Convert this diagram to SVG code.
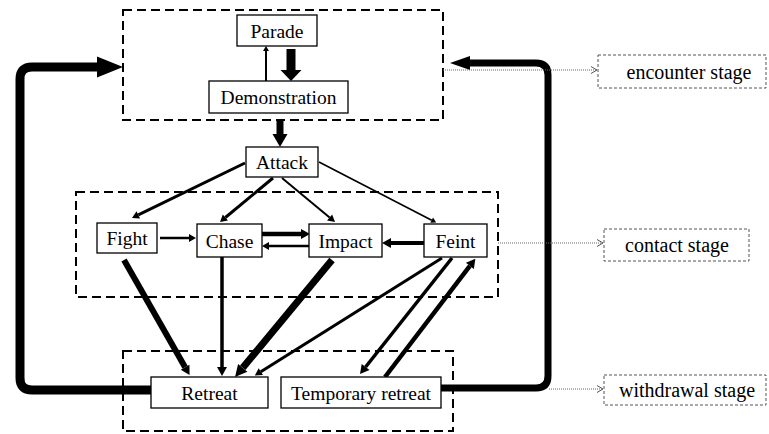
<svg xmlns="http://www.w3.org/2000/svg" width="769" height="434" viewBox="0 0 769 434">
<style>
.node rect{fill:#fff;stroke:#000;stroke-width:1.3}
text{font-family:"Liberation Serif","Times New Roman",serif;font-size:19.5px;fill:#000;text-anchor:middle}
.stage{fill:none;stroke:#000;stroke-width:2;stroke-dasharray:9 5}
.lbl rect{fill:#fff;stroke:#555;stroke-width:1;stroke-dasharray:3 2}
.lbl text{font-size:20px}
.c{fill:none;stroke:#000}
.dot{fill:none;stroke:#666;stroke-width:1.2;stroke-dasharray:1 1}
</style>
<defs>
<marker id="hT" markerUnits="userSpaceOnUse" orient="auto" markerWidth="12" markerHeight="12" viewBox="0 -6 12 12" refX="0" refY="0" overflow="visible"><path d="M0,-3 L5,0 L0,3 Z" fill="#000"/></marker>
<marker id="hS" markerUnits="userSpaceOnUse" orient="auto" markerWidth="12" markerHeight="12" viewBox="0 -6 12 12" refX="0" refY="0" overflow="visible"><path d="M0,-4 L7,0 L0,4 Z" fill="#000"/></marker>
<marker id="hM" markerUnits="userSpaceOnUse" orient="auto" markerWidth="12" markerHeight="12" viewBox="0 -6 12 12" refX="0" refY="0" overflow="visible"><path d="M0,-5 L9,0 L0,5 Z" fill="#000"/></marker>
<marker id="hL" markerUnits="userSpaceOnUse" orient="auto" markerWidth="14" markerHeight="14" viewBox="0 -7 14 14" refX="0" refY="0" overflow="visible"><path d="M0,-6 L12,0 L0,6 Z" fill="#000"/></marker>
<marker id="hA" markerUnits="userSpaceOnUse" orient="auto" markerWidth="16" markerHeight="16" viewBox="0 -8 16 16" refX="0" refY="0" overflow="visible"><path d="M0,-7.5 L13,0 L0,7.5 Z" fill="#000"/></marker>
<marker id="hP" markerUnits="userSpaceOnUse" orient="auto" markerWidth="22" markerHeight="22" viewBox="0 -11 22 22" refX="0" refY="0" overflow="visible"><path d="M0,-10.5 L11,0 L0,10.5 Z" fill="#000"/></marker>
<marker id="hBL" markerUnits="userSpaceOnUse" orient="auto" markerWidth="28" markerHeight="28" viewBox="0 -14 28 28" refX="0" refY="0" overflow="visible"><path d="M0,-10.5 L26,0 L0,10.5 Z" fill="#000"/></marker>
<marker id="hBR" markerUnits="userSpaceOnUse" orient="auto" markerWidth="22" markerHeight="22" viewBox="0 -11 22 22" refX="0" refY="0" overflow="visible"><path d="M0,-7 L20,0 L0,7 Z" fill="#000"/></marker>
<marker id="hO" markerUnits="userSpaceOnUse" orient="auto" markerWidth="10" markerHeight="10" viewBox="0 -5 10 10" refX="6" refY="0" overflow="visible"><path d="M0,-3.5 L6,0 L0,3.5" fill="none" stroke="#555" stroke-width="1"/></marker>
</defs>

<g id="stages">
<rect class="stage" x="123" y="10" width="320" height="110"/>
<rect class="stage" x="76" y="192" width="422" height="105"/>
<rect class="stage" x="123" y="351" width="330" height="80"/>
</g>

<g id="connectors">
<path class="c" stroke-width="2" d="M266,81 V51" marker-end="url(#hT)"/>
<path class="c" stroke-width="9" d="M291,49 V70" marker-end="url(#hP)"/>
<path class="c" stroke-width="7" d="M280,120 V134" marker-end="url(#hA)"/>
<path class="c" stroke-width="3" d="M245,163 L138.3,214.9" marker-end="url(#hS)"/>
<path class="c" stroke-width="3" d="M273,178 L225.4,217.5" marker-end="url(#hS)"/>
<path class="c" stroke-width="2" d="M282,178 L329.6,217.5" marker-end="url(#hS)"/>
<path class="c" stroke-width="1.6" d="M319,162 L431.7,220.2" marker-end="url(#hT)"/>
<path class="c" stroke-width="2.5" d="M160,238 H189" marker-end="url(#hS)"/>
<path class="c" stroke-width="4.5" d="M262,234 H301" marker-end="url(#hM)"/>
<path class="c" stroke-width="2.5" d="M309,246 H269" marker-end="url(#hS)"/>
<path class="c" stroke-width="4" d="M424,243 H391" marker-end="url(#hM)"/>
<path class="c" stroke-width="6" d="M124,260 L185.1,367.3" marker-end="url(#hM)"/>
<path class="c" stroke-width="3.5" d="M222,257 V367" marker-end="url(#hM)"/>
<path class="c" stroke-width="7" d="M332,260 L242.7,367.8" marker-end="url(#hL)"/>
<path class="c" stroke-width="3" d="M442,258 L260.8,371.7" marker-end="url(#hS)"/>
<path class="c" stroke-width="3.5" d="M452,258 L365.6,367" marker-end="url(#hM)"/>
<path class="c" stroke-width="4.5" d="M385,377 L469.9,265.9" marker-end="url(#hM)"/>
<path class="c" stroke-width="9" stroke-linejoin="round" d="M151,390 H32 Q20,390 20,378 V79 Q20,67 32,67 H97" marker-end="url(#hBL)"/>
<path class="c" stroke-width="7" stroke-linejoin="round" d="M441,388 H536 Q548,388 548,376 V75 Q548,63 536,63 H470" marker-end="url(#hBR)"/>
<path class="dot" d="M443,70 H597" marker-end="url(#hO)"/>
<path class="dot" d="M498,243 H603" marker-end="url(#hO)"/>
<path class="dot" d="M549,389 H603" marker-end="url(#hO)"/>
</g>

<g id="parade" class="node"><rect x="237" y="15" width="80" height="31"/><text x="277" y="37.5">Parade</text></g>
<g id="demonstration" class="node"><rect x="209" y="81" width="139" height="32"/><text x="278.5" y="104">Demonstration</text></g>
<g id="attack" class="node"><rect x="246" y="147" width="72" height="30"/><text x="282" y="169">Attack</text></g>
<g id="fight" class="node"><rect x="97" y="223" width="60" height="30"/><text x="127" y="245">Fight</text></g>
<g id="chase" class="node"><rect x="197" y="224" width="65" height="33"/><text x="229.5" y="247.5">Chase</text></g>
<g id="impact" class="node"><rect x="309" y="224" width="73" height="33"/><text x="345.5" y="247.5">Impact</text></g>
<g id="feint" class="node"><rect x="424" y="224" width="63" height="33"/><text x="455.5" y="247.5">Feint</text></g>
<g id="retreat" class="node"><rect x="151" y="377" width="117" height="31"/><text x="209.5" y="399.5">Retreat</text></g>
<g id="temporary-retreat" class="node"><rect x="281" y="377" width="160" height="31"/><text x="361" y="399.5">Temporary retreat</text></g>

<g id="encounter-stage" class="lbl"><rect x="598" y="55" width="168" height="33"/><text x="689" y="78.5">encounter stage</text></g>
<g id="contact-stage" class="lbl"><rect x="604" y="229" width="145" height="32"/><text x="677" y="251.5">contact stage</text></g>
<g id="withdrawal-stage" class="lbl"><rect x="604" y="375" width="162" height="30"/><text x="687" y="397">withdrawal stage</text></g>
</svg>
